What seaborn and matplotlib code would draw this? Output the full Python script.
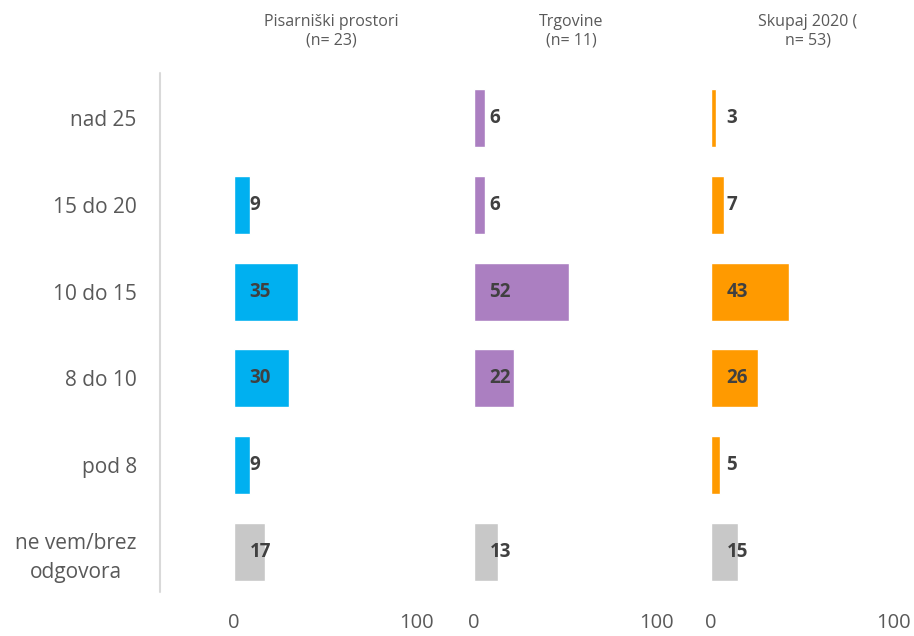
import matplotlib.pyplot as plt
import numpy as np
import pandas as pd
import seaborn as sns

# categories (top to bottom)
categories = ["nad 25", "15 do 20", "10 do 15", "8 do 10", "pod 8", "ne vem/brez\nodgovora"]

# panel titles
titles = ["Pisarniški prostori\n(n= 23)", "Trgovine\n(n= 11)", "Skupaj 2020 (\nn= 53)"]

# values per panel (None = no bar)
pisarniski = [None, 9, 35, 30, 9, 17]
trgovine = [6, 6, 52, 22, None, 13]
skupaj = [3, 7, 43, 26, 5, 15]

panel_values = [pisarniski, trgovine, skupaj]
panel_colors = ["#00B0F0", "#AB7FC1", "#FF9A00"]
gray = "#C8C8C8"

sns.set_style("white")
plt.rcParams['font.family'] = ['Open Sans', 'DejaVu Sans']

fig = plt.figure(figsize=(9.14, 6.36), dpi=100)
W, H = 914, 636
lefts = [234, 474, 711]
width_px = 182
top_px, bottom_px = 75, 595

for i, (vals, col) in enumerate(zip(panel_values, panel_colors)):
    ax = fig.add_axes([lefts[i] / W, 1 - bottom_px / H, width_px / W, (bottom_px - top_px) / H])
    df = pd.DataFrame({"cat": categories, "val": vals}).dropna()
    palette = {c: (gray if c.startswith("ne vem") else col) for c in categories}
    sns.barplot(data=df, x="val", y="cat", order=categories, hue="cat", palette=palette,
                legend=False, width=0.67, saturation=1, ax=ax, orient="h")
    for _, r in df.iterrows():
        ax.text(8.5, categories.index(r["cat"]), f"{int(r['val'])}", va="center", ha="left",
                fontsize=13.5, fontweight="bold", color="#404040")
    ax.set_xlim(0, 100)
    ax.set_ylim(len(categories) - 0.5, -0.5)
    ax.set_xticks([0, 100])
    ax.set_xticklabels(["0", "100"])
    ax.tick_params(axis="x", length=0, pad=13, labelsize=14.5, labelcolor="#595959")
    ax.set_xlabel("")
    ax.set_ylabel("")
    for s in ax.spines.values():
        s.set_visible(False)
    if i == 0:
        ax.tick_params(axis="y", length=0, pad=70, labelsize=15, labelcolor="#595959")
        for t in ax.get_yticklabels():
            t.set_multialignment("center")
            t.set_linespacing(1.5)
    else:
        ax.set_yticks([])
    fig.text((lefts[i] + width_px / 2 + 6) / W, 1 - 31 / H, titles[i], ha="center", va="center",
             fontsize=11.5, color="#595959", linespacing=1.25)

# vertical axis line
fig.add_artist(plt.Line2D([160 / W, 160 / W], [1 - 592 / H, 1 - 73 / H], color="#D9D9D9", lw=1.5))

fig.savefig("out.png", dpi=100)
